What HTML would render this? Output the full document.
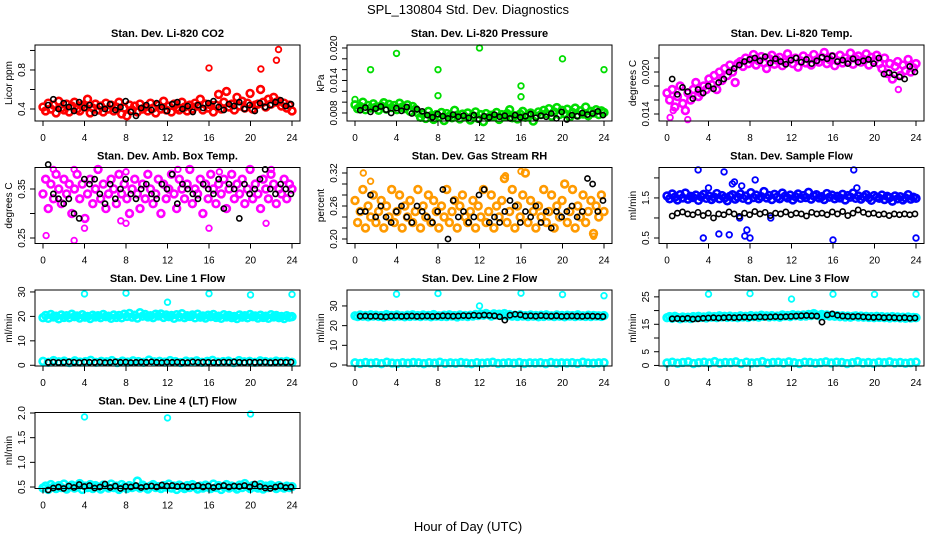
<!DOCTYPE html>
<html><head><meta charset="utf-8"><style>
html,body{margin:0;padding:0;background:#fff;}
svg{display:block;font-family:"Liberation Sans",sans-serif;}
</style></head><body>
<svg id="chart" width="936" height="540" viewBox="0 0 936 540" xmlns="http://www.w3.org/2000/svg">
<rect width="936" height="540" fill="#fff"/>
<text x="468" y="14" text-anchor="middle" font-size="13">SPL_130804  Std. Dev. Diagnostics</text>
<text x="468" y="531" text-anchor="middle" font-size="13">Hour of Day (UTC)</text>
</svg>
<script>
const xTicks=[0,4,8,12,16,20,24];
// P1
const co2Cloud=[0.42,0.38,0.46,0.40,0.44,0.36,0.48,0.41,0.39,0.45,0.37,0.43,0.47,0.40,0.38,0.44,0.42,0.50,0.36,0.41,0.45,0.39,0.43,0.37,0.46,0.40,0.44,0.38,0.42,0.47,0.35,0.41,0.33,0.44,0.39,0.43,0.37,0.45,0.40,0.42,0.38,0.46,0.41,0.36,0.44,0.40,0.48,0.39,0.43,0.37,0.45,0.41,0.39,0.47,0.42,0.38,0.44,0.40,0.46,0.43,0.50,0.39,0.45,0.41,0.44,0.37,0.44,0.55,0.40,0.47,0.58,0.42,0.45,0.39,0.52,0.43,0.48,0.41,0.46,0.56,0.40,0.44,0.45,0.60,0.47,0.42,0.50,0.45,0.52,0.47,0.48,0.43,0.46,0.41,0.44,0.38];
const co2Black=[0.44,0.50,0.40,0.46,0.42,0.38,0.47,0.41,0.44,0.36,0.43,0.40,0.45,0.39,0.42,0.48,0.37,0.33,0.41,0.44,0.39,0.46,0.42,0.38,0.45,0.47,0.40,0.43,0.37,0.44,0.41,0.46,0.48,0.42,0.39,0.45,0.43,0.47,0.40,0.44,0.38,0.46,0.42,0.44,0.47,0.49,0.43,0.45];
const co2OutHours=[16,21,22.5,22.7];
const co2OutValues=[0.82,0.81,0.90,1.01];
// P2
const presCloud=[0.0095,0.0088,0.0092,0.0100,0.0086,0.0094,0.0089,0.0097,0.0091,0.0085,0.0093,0.0099,0.0087,0.0096,0.0090,0.0094,0.0086,0.0098,0.0091,0.0088,0.0095,0.0083,0.0092,0.0087,0.0080,0.0072,0.0078,0.0070,0.0083,0.0075,0.0068,0.0077,0.0073,0.0081,0.0066,0.0079,0.0074,0.0071,0.0085,0.0076,0.0069,0.0078,0.0073,0.0080,0.0067,0.0075,0.0082,0.0070,0.0077,0.0064,0.0079,0.0072,0.0076,0.0074,0.0081,0.0068,0.0077,0.0073,0.0079,0.0086,0.0071,0.0075,0.0069,0.0078,0.0083,0.0072,0.0076,0.0080,0.0065,0.0074,0.0082,0.0077,0.0085,0.0079,0.0088,0.0074,0.0082,0.0090,0.0077,0.0085,0.0079,0.0087,0.0073,0.0081,0.0089,0.0076,0.0084,0.0078,0.0091,0.0075,0.0083,0.0080,0.0086,0.0077,0.0084,0.0081];
const presBlack=[0.0085,0.0090,0.0082,0.0088,0.0092,0.0086,0.0080,0.0089,0.0084,0.0091,0.0079,0.0087,0.0083,0.0076,0.0072,0.0078,0.0074,0.0070,0.0077,0.0073,0.0075,0.0071,0.0076,0.0068,0.0074,0.0072,0.0077,0.0073,0.0075,0.0070,0.0076,0.0072,0.0074,0.0078,0.0071,0.0075,0.0073,0.0079,0.0070,0.0082,0.0068,0.0076,0.0074,0.0080,0.0077,0.0079,0.0083,0.0076];
const presOutHours=[0,1.5,4,8,8,12,16,16,20,24];
const presOutValues=[0.0105,0.0160,0.0190,0.0160,0.0112,0.0200,0.0130,0.0110,0.0180,0.0160];
// P3
const tempCloud=[0.0170,0.0160,0.0175,0.0150,0.0165,0.0180,0.0155,0.0145,0.0170,0.0160,0.0175,0.0185,0.0165,0.0170,0.0180,0.0175,0.0190,0.0182,0.0195,0.0175,0.0200,0.0188,0.0205,0.0195,0.0210,0.0200,0.0185,0.0212,0.0215,0.0208,0.0220,0.0212,0.0218,0.0225,0.0210,0.0216,0.0222,0.0213,0.0205,0.0219,0.0224,0.0211,0.0217,0.0221,0.0209,0.0214,0.0226,0.0218,0.0212,0.0220,0.0207,0.0216,0.0223,0.0213,0.0219,0.0210,0.0225,0.0217,0.0214,0.0221,0.0228,0.0212,0.0218,0.0222,0.0209,0.0216,0.0224,0.0213,0.0220,0.0215,0.0227,0.0211,0.0219,0.0223,0.0214,0.0218,0.0226,0.0210,0.0221,0.0216,0.0224,0.0212,0.0205,0.0220,0.0198,0.0212,0.0190,0.0208,0.0215,0.0195,0.0210,0.0202,0.0218,0.0200,0.0206,0.0212];
const tempBlack=[0.0190,0.0168,0.0178,0.0172,0.0162,0.0175,0.0170,0.0180,0.0176,0.0185,0.0190,0.0200,0.0205,0.0210,0.0215,0.0218,0.0220,0.0216,0.0222,0.0213,0.0219,0.0215,0.0211,0.0217,0.0220,0.0214,0.0218,0.0212,0.0216,0.0221,0.0219,0.0223,0.0215,0.0217,0.0212,0.0219,0.0214,0.0216,0.0218,0.0212,0.0220,0.0197,0.0199,0.0196,0.0193,0.0190,0.0208,0.0200];
const tempOutHours=[0.3,0.6,2.0,22.3];
const tempOutValues=[0.0135,0.0145,0.0132,0.0175];
// P4
const boxCloud=[0.34,0.37,0.31,0.36,0.33,0.38,0.35,0.32,0.37,0.34,0.36,0.30,0.35,0.38,0.33,0.36,0.29,0.34,0.37,0.32,0.35,0.39,0.33,0.36,0.31,0.34,0.37,0.35,0.32,0.38,0.34,0.36,0.33,0.30,0.35,0.37,0.34,0.31,0.36,0.33,0.38,0.35,0.32,0.34,0.37,0.30,0.36,0.33,0.35,0.38,0.34,0.31,0.37,0.35,0.33,0.36,0.39,0.32,0.35,0.34,0.37,0.30,0.36,0.33,0.38,0.35,0.32,0.36,0.34,0.37,0.31,0.35,0.38,0.33,0.36,0.34,0.37,0.32,0.35,0.39,0.33,0.36,0.34,0.31,0.37,0.35,0.33,0.38,0.36,0.32,0.35,0.34,0.37,0.33,0.36,0.35];
const boxBlack=[0.40,0.34,0.33,0.32,0.33,0.30,0.29,0.37,0.36,0.37,0.34,0.32,0.36,0.33,0.35,0.37,0.34,0.33,0.35,0.36,0.34,0.33,0.36,0.35,0.38,0.32,0.36,0.35,0.34,0.33,0.36,0.35,0.34,0.37,0.31,0.36,0.35,0.29,0.36,0.34,0.35,0.37,0.39,0.35,0.34,0.36,0.35,0.34];
const boxOutHours=[0.3,3,4,7.5,8,16,21.5,1,3,8,13,17,22];
const boxOutValues=[0.255,0.245,0.27,0.285,0.28,0.27,0.28,0.39,0.39,0.385,0.39,0.385,0.39];
// P5
const rhCloud=[0.27,0.23,0.25,0.29,0.22,0.26,0.24,0.28,0.23,0.25,0.27,0.22,0.26,0.24,0.29,0.23,0.25,0.28,0.22,0.26,0.24,0.27,0.23,0.25,0.29,0.22,0.26,0.24,0.28,0.23,0.27,0.25,0.22,0.26,0.24,0.29,0.23,0.25,0.27,0.22,0.26,0.28,0.24,0.23,0.25,0.27,0.22,0.26,0.24,0.29,0.23,0.25,0.28,0.22,0.26,0.24,0.27,0.31,0.23,0.25,0.29,0.22,0.26,0.24,0.28,0.32,0.23,0.27,0.25,0.22,0.26,0.24,0.29,0.23,0.25,0.28,0.22,0.26,0.24,0.27,0.30,0.23,0.25,0.29,0.22,0.26,0.24,0.28,0.23,0.25,0.27,0.21,0.26,0.24,0.28,0.25];
const rhBlack=[0.25,0.25,0.28,0.24,0.26,0.24,0.23,0.25,0.26,0.24,0.23,0.26,0.25,0.24,0.23,0.25,0.29,0.20,0.27,0.24,0.25,0.23,0.24,0.28,0.29,0.23,0.24,0.23,0.25,0.27,0.26,0.23,0.25,0.24,0.26,0.23,0.25,0.22,0.25,0.24,0.25,0.26,0.24,0.25,0.31,0.30,0.25,0.27];
const rhOutHours=[0.8,1.5,14.5,16,23];
const rhOutValues=[0.32,0.305,0.315,0.323,0.205];
// P6
const flowCloud=[1.55,1.48,1.60,1.52,1.45,1.58,1.50,1.62,1.47,1.54,1.51,1.57,1.44,1.53,1.59,1.49,1.55,1.46,1.52,1.61,1.48,1.56,1.50,1.43,1.54,1.58,1.47,1.52,1.60,1.49,1.55,1.45,1.63,1.51,1.57,1.48,1.53,1.66,1.50,1.56,1.46,1.59,1.52,1.48,1.62,1.54,1.50,1.57,1.45,1.53,1.60,1.49,1.56,1.51,1.64,1.47,1.55,1.58,1.50,1.53,1.46,1.61,1.52,1.57,1.48,1.54,1.50,1.59,1.45,1.56,1.52,1.62,1.49,1.55,1.47,1.53,1.58,1.50,1.44,1.56,1.52,1.49,1.57,1.46,1.54,1.51,1.42,1.55,1.48,1.53,1.45,1.50,1.58,1.47,1.52,1.49];
const flowBlack=[1.05,1.12,1.15,1.1,1.08,1.14,1.06,1.12,1.0,1.1,1.08,1.15,1.1,1.04,1.12,1.08,1.16,1.1,1.14,1.06,1.12,1.1,1.15,1.08,1.12,1.1,1.05,1.14,1.1,1.12,1.08,1.15,1.1,1.16,1.06,1.12,1.2,1.14,1.1,1.12,1.08,1.1,1.06,1.1,1.08,1.1,1.08,1.1];
const flowOutHours=[3,3.5,4,5,5.5,6,6.3,6.5,7,7.2,7.5,7.7,8,8.5,10,16,18,18.3,24];
const flowOutValues=[2.2,0.5,1.75,0.6,2.15,0.58,1.85,1.9,1.0,1.8,0.55,0.7,0.5,1.95,1.0,0.45,2.2,1.75,0.5];
// P7
const l1High=[19.5,20.4,19.2,20.8,19.8,20.1,19.0,20.6,19.6,20.3,19.4,20.9,19.9,20.2,19.3,20.7,19.7,20.0,19.1,20.5,19.8,20.3,19.5,20.8,19.9,20.1,19.2,20.6,19.6,20.4,19.4,20.9,20.0,21.2,19.7,20.5,19.3,21.5,20.1,20.8,19.8,20.3,19.5,20.9,20.2,21.0,19.6,20.6,19.9,20.4,19.2,20.7,19.8,21.1,19.5,20.3,20.0,20.6,19.4,20.9,19.7,20.2,19.3,20.5,19.9,20.8,19.6,20.1,19.2,20.7,19.8,20.4,19.5,20.0,19.1,20.6,19.7,20.3,19.4,20.8,19.9,20.2,19.3,20.5,19.6,20.1,19.2,20.7,19.8,20.4,19.5,20.0,19.1,20.3,19.7,19.9];
const l1Low=[1.6,1.2,1.9,1.4,1.7,1.1,1.8,1.3,1.5,2.0,1.2,1.6,1.4,1.9,1.1,1.7,1.3,1.8,1.5,1.2,2.1,1.4,1.6,1.3,1.9,1.5,1.1,1.7,1.4,1.8,1.2,1.6,2.0,1.3,1.5,1.7,1.1,1.9,1.4,1.6,1.2,1.8,1.5,1.3,1.7,1.4,1.6,1.2];
const l1Black=[1.2,1.3,1.1,1.2,1.4,1.2,1.1,1.3,1.2,1.2,1.3,1.1,1.2,1.4,1.2,1.3,1.1,1.2,1.3,1.2,1.4,1.2,1.1,1.3,1.2,1.3,1.2,1.1,1.4,1.2,1.3,1.2,1.1,1.2,1.3,1.2,1.4,1.2,1.1,1.3,1.2,1.2,1.3,1.1,1.2,1.3,1.2,1.3];
const l1OutHours=[4,8,12,16,20,24];
const l1OutValues=[29.2,29.5,25.8,29.3,28.8,29.0];
// P8
const l2High=[25.0,24.6,25.4,24.8,25.2,24.5,25.5,24.9,25.3,24.7,25.1,24.4,25.6,24.8,25.2,24.6,25.4,24.9,25.0,24.5,25.3,24.7,25.5,24.8,25.1,24.6,25.4,24.9,25.2,24.5,25.6,24.8,25.0,24.7,25.3,24.6,25.5,24.9,25.1,24.4,25.4,24.8,25.2,24.6,25.3,24.9,25.7,25.1,25.9,25.3,26.2,25.5,24.9,26.0,25.4,25.8,25.2,26.1,25.0,25.6,24.8,25.3,24.7,25.5,24.9,25.1,24.6,25.4,24.8,25.2,24.5,25.3,24.7,25.5,24.9,25.0,24.6,25.4,24.8,25.2,24.5,25.3,24.9,25.1,24.6,25.5,24.8,25.0,24.7,25.3,24.6,25.2,24.9,25.0,24.7,25.1];
const l2Low=[1.1,0.8,1.3,0.9,1.2,0.7,1.4,1.0,0.8,1.2,0.9,1.3,1.1,0.7,1.2,1.0,1.4,0.8,1.1,0.9,1.3,1.0,0.7,1.2,0.9,1.1,1.4,0.8,1.0,1.2,0.9,1.3,0.8,1.1,1.0,1.2,0.7,1.3,0.9,1.1,1.0,1.2,0.8,1.4,1.0,0.9,1.1,1.2];
const l2Black=[24.8,24.9,24.7,24.8,24.6,24.5,24.8,24.9,24.7,24.8,24.9,24.7,24.8,24.9,24.7,24.8,25.0,24.9,24.8,24.9,25.1,25.0,25.3,25.1,25.4,25.2,25.0,24.5,22.8,25.3,25.8,25.5,24.9,25.0,24.8,25.1,24.9,24.8,25.0,24.7,24.8,24.9,24.8,24.7,24.9,24.8,24.7,24.6];
const l2OutHours=[4,8,12,16,20,24];
const l2OutValues=[36.0,36.3,30.0,36.5,35.8,35.2];
// P9
const l3High=[17.4,17.8,17.2,17.9,17.5,17.0,17.7,17.3,17.6,17.1,17.8,17.4,17.9,17.5,17.7,17.3,18.0,17.6,17.8,17.4,18.1,17.7,17.9,17.5,18.0,17.6,17.8,17.4,18.1,17.7,17.9,17.5,18.2,17.8,18.0,17.6,18.3,17.9,18.1,17.7,18.2,17.8,18.0,17.6,18.4,18.0,18.2,17.8,18.5,18.1,18.3,17.9,18.4,18.0,18.6,18.2,18.9,18.4,18.1,18.6,18.2,18.4,18.0,18.3,17.9,18.2,17.8,18.1,17.7,18.0,17.6,17.9,18.1,17.7,18.0,17.6,17.9,17.5,17.8,17.4,17.9,17.5,17.8,17.4,17.7,17.3,17.8,17.4,17.7,17.3,17.6,17.2,17.7,17.3,17.5,17.4];
const l3Low=[0.9,1.2,0.8,1.1,1.3,0.7,1.0,1.2,0.9,1.4,0.8,1.1,1.0,1.3,0.7,1.2,0.9,1.0,1.4,0.8,1.1,1.2,0.9,1.3,1.0,0.7,1.2,1.1,0.8,1.0,1.3,0.9,1.2,1.1,0.7,1.0,1.4,0.9,1.1,0.8,1.2,1.0,1.3,0.9,1.1,0.8,1.0,1.2];
const l3Black=[17.0,17.1,17.0,17.2,16.9,17.0,17.2,17.3,17.4,17.3,17.4,17.5,17.4,17.5,17.6,17.5,17.6,17.7,17.6,17.7,17.8,17.7,17.8,17.9,18.0,18.1,18.2,18.1,18.0,15.8,18.4,18.8,18.3,18.0,17.9,17.8,17.9,17.7,17.6,17.5,17.6,17.4,17.5,17.4,17.3,17.4,17.2,17.3];
const l3OutHours=[4,8,12,16,20,24];
const l3OutValues=[26.0,26.2,24.2,26.0,25.9,26.0];
// P10
const l4Cloud=[0.48,0.52,0.45,0.55,0.50,0.47,0.53,0.49,0.56,0.46,0.51,0.54,0.48,0.50,0.57,0.45,0.52,0.49,0.55,0.47,0.53,0.50,0.46,0.54,0.51,0.48,0.56,0.49,0.52,0.45,0.55,0.50,0.47,0.53,0.49,0.51,0.62,0.48,0.54,0.50,0.46,0.52,0.55,0.49,0.51,0.47,0.53,0.50,0.56,0.48,0.52,0.45,0.54,0.50,0.47,0.53,0.49,0.55,0.51,0.46,0.52,0.48,0.54,0.50,0.47,0.56,0.49,0.53,0.45,0.51,0.55,0.48,0.52,0.50,0.46,0.54,0.49,0.57,0.51,0.47,0.53,0.50,0.48,0.55,0.46,0.52,0.49,0.54,0.51,0.47,0.53,0.50,0.48,0.52,0.49,0.51];
const l4Black=[0.44,0.48,0.50,0.47,0.52,0.49,0.55,0.51,0.53,0.48,0.50,0.56,0.49,0.52,0.47,0.51,0.50,0.53,0.49,0.51,0.52,0.50,0.54,0.52,0.53,0.51,0.52,0.50,0.51,0.53,0.50,0.52,0.49,0.51,0.53,0.50,0.52,0.51,0.53,0.50,0.56,0.51,0.48,0.47,0.50,0.52,0.49,0.50];
const l4OutHours=[4,12,20];
const l4OutValues=[1.92,1.90,1.98];

const panels=[
 {name:'li820-co2',title:'Stan. Dev. Li-820 CO2',ylab:'Licor ppm',col:0,row:0,dom:[0.277,1.056],ticks:[0.4,0.6,0.8,1.0],labels:['0.4','','0.8',''],color:'#ff0000',clouds:[co2Cloud],black:co2Black,oh:co2OutHours,ov:co2OutValues},
 {name:'li820-pressure',title:'Stan. Dev. Li-820 Pressure',ylab:'kPa',col:1,row:0,dom:[0.00652,0.02055],ticks:[0.008,0.010,0.012,0.014,0.016,0.018,0.020],labels:['0.008','','','0.014','','','0.020'],color:'#00dd00',clouds:[presCloud],black:presBlack,oh:presOutHours,ov:presOutValues},
 {name:'li820-temp',title:'Stan. Dev. Li-820 Temp.',ylab:'degrees C',col:2,row:0,dom:[0.0130,0.02386],ticks:[0.014,0.016,0.018,0.020,0.022],labels:['0.014','','','0.020',''],color:'#ff00ff',clouds:[tempCloud],black:tempBlack,oh:tempOutHours,ov:tempOutValues},
 {name:'amb-box-temp',title:'Stan. Dev. Amb. Box Temp.',ylab:'degrees C',col:0,row:1,dom:[0.2388,0.3939],ticks:[0.25,0.30,0.35],labels:['0.25','','0.35'],color:'#ff00ff',clouds:[boxCloud],black:boxBlack,oh:boxOutHours,ov:boxOutValues},
 {name:'gas-stream-rh',title:'Stan. Dev. Gas Stream RH',ylab:'percent',col:1,row:1,dom:[0.1918,0.330],ticks:[0.20,0.22,0.24,0.26,0.28,0.30,0.32],labels:['0.20','','','0.26','','','0.32'],color:'#ff9a00',clouds:[rhCloud],black:rhBlack,oh:rhOutHours,ov:rhOutValues},
 {name:'sample-flow',title:'Stan. Dev. Sample Flow',ylab:'ml/min',col:2,row:1,dom:[0.3625,2.26],ticks:[0.5,1.0,1.5,2.0],labels:['0.5','','1.5',''],color:'#0000ff',clouds:[flowCloud],black:flowBlack,oh:flowOutHours,ov:flowOutValues},
 {name:'line1-flow',title:'Stan. Dev. Line 1 Flow',ylab:'ml/min',col:0,row:2,dom:[-0.3,30.8],ticks:[0,10,20,30],labels:['0','10','20','30'],color:'#00ffff',clouds:[l1High,l1Low],black:l1Black,oh:l1OutHours,ov:l1OutValues},
 {name:'line2-flow',title:'Stan. Dev. Line 2 Flow',ylab:'ml/min',col:1,row:2,dom:[-0.5,38.1],ticks:[0,10,20,30],labels:['0','10','20','30'],color:'#00ffff',clouds:[l2Low,l2High],black:l2Black,oh:l2OutHours,ov:l2OutValues},
 {name:'line3-flow',title:'Stan. Dev. Line 3 Flow',ylab:'ml/min',col:2,row:2,dom:[-0.2,27.5],ticks:[0,5,10,15,20,25],labels:['0','5','','15','','25'],color:'#00ffff',clouds:[l3Low,l3High],black:l3Black,oh:l3OutHours,ov:l3OutValues},
 {name:'line4-flow',title:'Stan. Dev. Line 4 (LT) Flow',ylab:'ml/min',col:0,row:3,dom:[0.47,2.01],ticks:[0.5,1.0,1.5,2.0],labels:['0.5','1.0','1.5','2.0'],color:'#00ffff',clouds:[l4Cloud],black:l4Black,oh:l4OutHours,ov:l4OutValues}
];
const NS='http://www.w3.org/2000/svg';
const svg=document.getElementById('chart');
function mk(tag,attrs,parent){const e=document.createElementNS(NS,tag);for(const k in attrs)e.setAttribute(k,attrs[k]);parent.appendChild(e);return e;}
panels.forEach(p=>{
  const L=35+312*p.col,R=L+265,T=45+122.5*p.row,B=T+76;
  const xS=h=>L+8+h*(249/24);
  const yS=v=>B-(v-p.dom[0])/(p.dom[1]-p.dom[0])*(B-T);
  const g=mk('g',{},svg);
  
  
  const t=mk('text',{x:(L+R)/2,y:T-8,'text-anchor':'middle','font-size':'11','font-weight':'bold'},g);
  t.textContent=p.title;
  
  
  const yl=mk('text',{x:0,y:0,transform:`translate(${L-23},${(T+B)/2}) rotate(-90)`,'text-anchor':'middle','font-size':'10'},g);
  yl.textContent=p.ylab;
  
  
  const pts=mk('g',{fill:'none'},g);
  
  
  p.clouds.forEach(arr=>{arr.forEach((v,i)=>{
    const c=mk('circle',{cx:xS(i*24/(arr.length-1)),cy:yS(v),r:3.4,stroke:p.color,'stroke-width':2.6},pts);
    
    
  });});
  p.oh.forEach((h,i)=>{
    const c=mk('circle',{cx:xS(h),cy:yS(p.ov[i]),r:2.8,stroke:p.color,'stroke-width':1.8},pts);
    
    
  });
  p.black.forEach((v,i)=>{
    const c=mk('circle',{cx:xS(0.5+i*23.4/(p.black.length-1)),cy:yS(v),r:2.6,stroke:'#000','stroke-width':1.6},pts);
    
    
  });
  const box=mk('rect',{x:L,y:T,width:R-L,height:B-T,fill:'none',stroke:'#000','stroke-width':1},g);
  
  
  xTicks.forEach(h=>{
    mk('line',{x1:xS(h),x2:xS(h),y1:B,y2:B+5,stroke:'#000'},g);
    const tx=mk('text',{x:xS(h),y:B+20,'text-anchor':'middle','font-size':'10'},g);
    tx.textContent=h;
    
    
  });
  p.ticks.forEach((v,i)=>{
    mk('line',{x1:L-5,x2:L,y1:yS(v),y2:yS(v),stroke:'#000'},g);
    if(p.labels[i]){
      const ty=mk('text',{x:0,y:0,transform:`translate(${L-10},${yS(v)}) rotate(-90)`,'text-anchor':'middle','font-size':'10'},g);
      ty.textContent=p.labels[i];
      
      
    }
  });
});
</script>
</body></html>
